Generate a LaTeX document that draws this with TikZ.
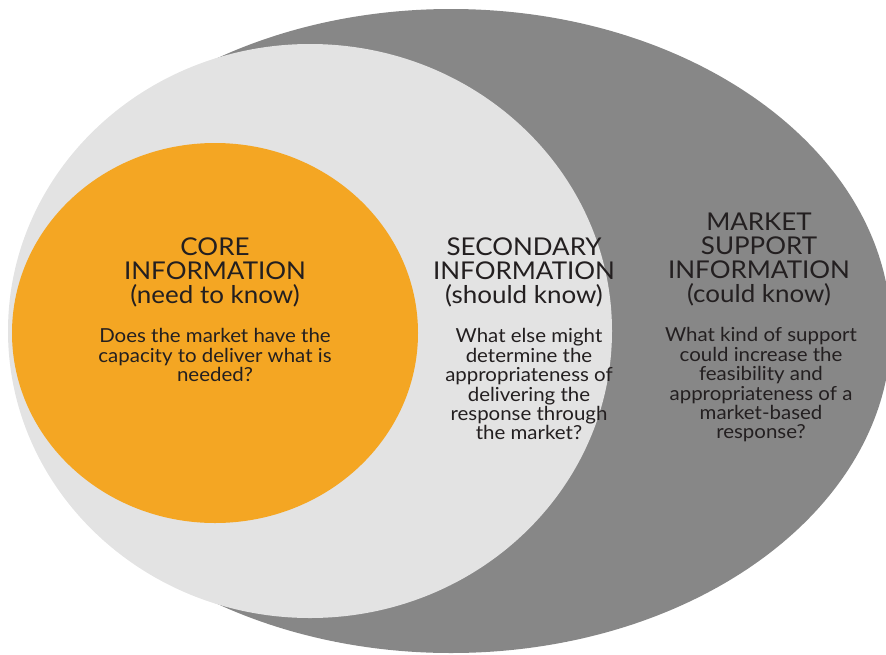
\documentclass[tikz,border=0pt]{standalone}
\usepackage{fontspec}
\setmainfont{Lato}[FakeStretch=1.06]
\usetikzlibrary{positioning}
\definecolor{outergray}{HTML}{878787}
\definecolor{midgray}{HTML}{E3E3E3}
\definecolor{coreorange}{HTML}{F4A623}
\definecolor{inkdark}{HTML}{231F20}
\tikzstyle{head} = [anchor=north, inner sep=0pt, align=center, text=inkdark, font=\fontsize{24.5}{24.2}\selectfont]
\tikzstyle{body} = [node distance=21pt, inner sep=0pt, align=center, text=inkdark, font=\fontsize{19.3}{19.4}\selectfont]

\begin{document}
\begin{tikzpicture}[x=1pt,y=-1pt]
    \useasboundingbox (0,0) rectangle (886,654);
    \clip (0,0) rectangle (886,654);

    % the three nested rings
    \fill[outergray]  (451,331) ellipse [x radius=440, y radius=322];
    \fill[midgray]    (310,331) ellipse [x radius=302, y radius=287];
    \fill[coreorange] (215,333) ellipse [x radius=203, y radius=190];

    \node[head] (Core) at (215,237.4) {CORE\\INFORMATION\\(need to know)};
    \node[head] (Second) at (524,237.4) {SECONDARY\\INFORMATION\\(should know)};
    \node[head] (Support) at (759,212.4) {MARKET\\SUPPORT\\INFORMATION\\(could know)};

    \node[body] (CoreQ) [below=of Core] {Does the market have the\\capacity to deliver what is\\needed?};
    \node[body] (SecondQ) [below=of Second, xshift=5pt] {What else might\\determine the\\appropriateness of\\delivering the\\response through\\the market?};
    \node[body] (SupportQ) [below=of Support, xshift=2pt] {What kind of support\\could increase the\\feasibility and\\appropriateness of a\\market-based\\response?};
\end{tikzpicture}
\end{document}
